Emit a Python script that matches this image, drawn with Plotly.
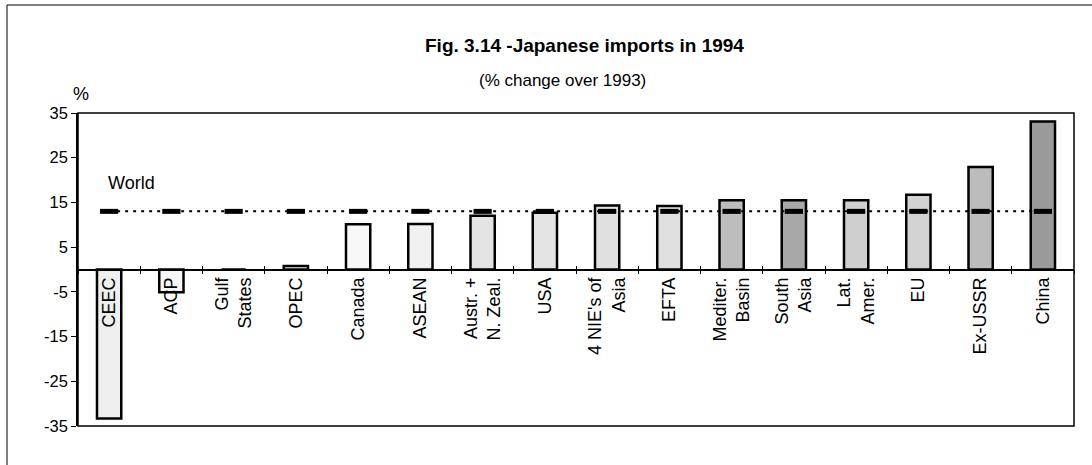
import plotly.graph_objects as go

# ---- data ----
categories = ["CEEC", "ACP", "Gulf<br>States", "OPEC", "Canada", "ASEAN",
              "Austr. +<br>N. Zeal.", "USA", "4 NIE's of<br>Asia", "EFTA",
              "Mediter.<br>Basin", "South<br>Asia", "Lat.<br>Amer.", "EU",
              "Ex-USSR", "China"]
change_pct = [-33.3, -5.1, 0.0, 0.8, 10.1, 10.2, 12.0, 12.7, 14.3, 14.2,
              15.5, 15.5, 15.5, 16.7, 22.9, 33.1]
world_pct = 13.0
y_ticks = [-35, -25, -15, -5, 5, 15, 25, 35]
y_tick_labels = [str(v) for v in y_ticks]

# ---- styles ----
bar_colors = ["#efefef", "#f7f7f7", "#f7f7f7", "#f0f0f0", "#f8f8f8", "#f0f0f0",
              "#e4e4e4", "#e4e4e4", "#e0e0e0", "#e0e0e0", "#bdbdbd", "#a8a8a8",
              "#cfcfcf", "#d2d2d2", "#bcbcbc", "#9a9a9a"]
FONT = "Liberation Sans, Arial, sans-serif"
W, H = 1092, 465
L, R, T, B = 78, 18, 113, 39
pw, ph = W - L - R, H - T - B


def px_x(p):
    return (p - L) / pw


def px_y(p):
    return (H - B - p) / ph


n = len(categories)

fig = go.Figure()
fig.add_trace(go.Bar(
    x=categories, y=change_pct, width=0.39,
    marker=dict(color=bar_colors, line=dict(color="black", width=2.5)),
    showlegend=False, hoverinfo="x+y"))
fig.add_trace(go.Scatter(
    x=categories, y=[world_pct] * n, mode="lines+markers",
    line=dict(color="black", width=2, dash="3px,5px"),
    marker=dict(symbol="line-ew", size=13, line=dict(color="black", width=5)),
    showlegend=False, hoverinfo="y"))
# helper trace for the inner tick axis
fig.add_trace(go.Scatter(
    x=categories, y=[None] * n, xaxis="x2", mode="markers",
    marker=dict(opacity=0), showlegend=False, hoverinfo="skip"))

fig.update_layout(
    width=W, height=H,
    margin=dict(l=L, r=R, t=T, b=B),
    paper_bgcolor="white", plot_bgcolor="white",
    font=dict(family=FONT, size=18, color="black"),
    xaxis=dict(
        type="category", categoryorder="array", categoryarray=categories,
        range=[-0.5, n - 0.5], anchor="free", position=0.5,
        showline=True, linecolor="black", linewidth=1.5,
        tickson="boundaries", ticks="outside", ticklen=4, tickwidth=1.2,
        tickcolor="black", tickangle=-90, showgrid=False, zeroline=False,
        tickfont=dict(family=FONT, size=18, color="black")),
    xaxis2=dict(
        type="category", categoryorder="array", categoryarray=categories,
        range=[-0.5, n - 0.5], overlaying="x", anchor="free", position=0.5,
        tickson="boundaries", ticks="inside", ticklen=4, tickwidth=1.2,
        tickcolor="black", showticklabels=False, showgrid=False,
        showline=False, zeroline=False),
    yaxis=dict(
        range=[-35, 35], tickvals=y_ticks, ticktext=y_tick_labels,
        ticks="outside", ticklen=5,
        tickcolor="black", showline=True, linecolor="black", linewidth=1.5,
        showgrid=False, zeroline=False,
        tickfont=dict(family=FONT, size=16.5, color="black")),
    bargap=0.6,
)

# plot frame
fig.add_shape(type="rect", xref="paper", yref="paper", x0=0, x1=1, y0=0, y1=1,
              line=dict(color="black", width=1.5), layer="above")
# outer border (left and top)
fig.add_shape(type="line", xref="paper", yref="paper",
              x0=px_x(7), x1=px_x(7), y0=px_y(5), y1=px_y(H + 5),
              line=dict(color="black", width=1))
fig.add_shape(type="line", xref="paper", yref="paper",
              x0=px_x(7), x1=px_x(W + 5), y0=px_y(5), y1=px_y(5),
              line=dict(color="black", width=1))

fig.add_annotation(text="<b>Fig. 3.14 -Japanese imports in 1994</b>",
                   xref="paper", yref="paper", x=px_x(584), y=px_y(45),
                   xanchor="center", yanchor="middle",
                   showarrow=False, font=dict(family=FONT, size=19))
fig.add_annotation(text="(% change over 1993)",
                   xref="paper", yref="paper", x=px_x(562), y=px_y(80),
                   xanchor="center", yanchor="middle",
                   showarrow=False, font=dict(family=FONT, size=17))
fig.add_annotation(text="%", xref="paper", yref="paper",
                   x=px_x(81), y=px_y(94), xanchor="center", yanchor="middle",
                   showarrow=False, font=dict(family=FONT, size=18))
fig.add_annotation(text="World", xref="x", yref="y", x=categories[0], y=19.3,
                   xanchor="left", yanchor="middle", xshift=-3, showarrow=False,
                   font=dict(family=FONT, size=18))

fig.write_html("out.html",
               config={"displayModeBar": False},
               post_script="document.body.style.margin='0';"
                           "document.body.style.overflow='hidden';")
